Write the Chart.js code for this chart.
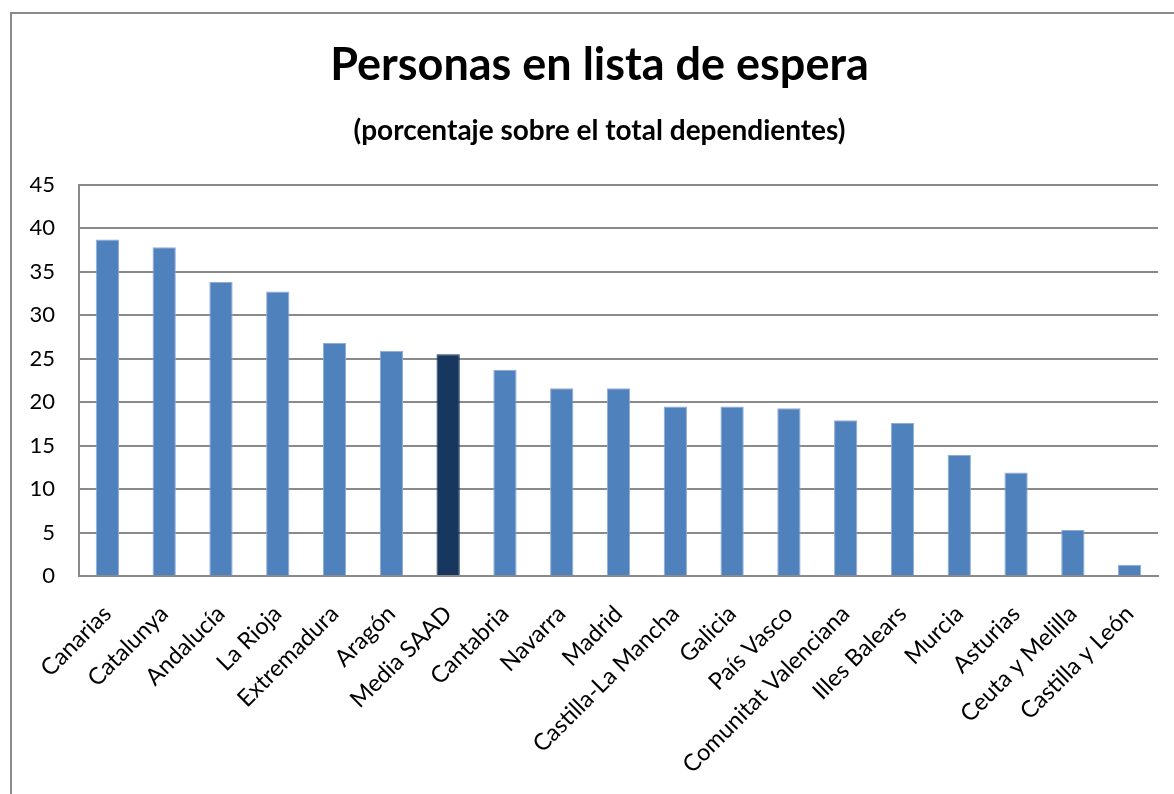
<!DOCTYPE html>
<html>
<head>
<meta charset="utf-8">
<script src="https://cdn.jsdelivr.net/npm/chart.js@4.4.0/dist/chart.umd.min.js"></script>
<style>
  html, body { margin: 0; padding: 0; background: #fff; overflow: hidden; }
  #wrap { position: relative; width: 1174px; height: 794px; }
  #frame { position: absolute; left: 10px; top: 12px; width: 1300px; height: 900px;
           border: 2px solid #8a8a8a; box-sizing: border-box; pointer-events: none; }
</style>
</head>
<body>
<div id="wrap">
  <canvas id="barChart" width="1174" height="794"></canvas>
  <div id="frame"></div>
</div>
<script>
const categories = ['Canarias', 'Catalunya', 'Andalucía', 'La Rioja', 'Extremadura', 'Aragón',
  'Media SAAD', 'Cantabria', 'Navarra', 'Madrid', 'Castilla-La Mancha', 'Galicia', 'País Vasco',
  'Comunitat Valenciana', 'Illes Balears', 'Murcia', 'Asturias', 'Ceuta y Melilla', 'Castilla y León'];
const values = [38.7, 37.8, 33.8, 32.7, 26.8, 25.9, 25.5, 23.7, 21.6, 21.6, 19.5, 19.5, 19.3,
  17.9, 17.6, 13.9, 11.9, 5.3, 1.3];
const yTicks = [0, 5, 10, 15, 20, 25, 30, 35, 40, 45];
const highlight = 'Media SAAD';

const fontFamily = 'Lato, "Open Sans", sans-serif';
const gridColor = '#8a8a8a';

// the titles sit a bit right of the canvas centre in the reference
const shiftTitles = {
  id: 'shiftTitles',
  afterLayout(chart) {
    chart.boxes.forEach(b => {
      if (b.options && b.options.text) { b.left += 40; }
    });
  }
};

const ctx = document.getElementById('barChart').getContext('2d');
new Chart(ctx, {
  type: 'bar',
  data: {
    labels: categories,
    datasets: [{
      data: values,
      backgroundColor: categories.map(c => c === highlight ? '#17375E' : '#4F81BD'),
      borderColor: categories.map(c => c === highlight ? '#17375E' : '#8EACD6'),
      borderWidth: 1,
      barPercentage: 0.41,
      categoryPercentage: 1
    }]
  },
  plugins: [shiftTitles],
  options: {
    responsive: false,
    animation: false,
    layout: { padding: { left: 0, right: 15, top: 0, bottom: 0 } },
    plugins: {
      legend: { display: false },
      tooltip: { enabled: false },
      title: {
        display: true,
        text: 'Personas en lista de espera',
        color: '#000',
        font: { family: fontFamily, size: 45, weight: 'bold', lineHeight: 1.2 },
        padding: { top: 38, bottom: 22 }
      },
      subtitle: {
        display: true,
        text: '(porcentaje sobre el total dependientes)',
        color: '#000',
        font: { family: fontFamily, size: 28, weight: 'bold', lineHeight: 1.2 },
        padding: { top: 0, bottom: 37 }
      }
    },
    scales: {
      y: {
        min: 0,
        max: 45,
        afterBuildTicks: axis => { axis.ticks = yTicks.map(v => ({ value: v })); },
        afterFit: axis => { axis.width = 79; },
        ticks: { color: '#000', padding: 24, font: { family: fontFamily, size: 22 } },
        grid: { color: gridColor, lineWidth: 2, drawTicks: false },
        border: { color: gridColor, width: 2 }
      },
      x: {
        afterFit: axis => { axis.height = 218; },
        ticks: {
          color: '#000',
          minRotation: 45,
          maxRotation: 45,
          autoSkip: false,
          padding: 24,
          font: { family: fontFamily, size: 23.5 }
        },
        grid: { display: false, drawTicks: false },
        border: { color: gridColor, width: 2 }
      }
    }
  }
});
</script>
</body>
</html>
